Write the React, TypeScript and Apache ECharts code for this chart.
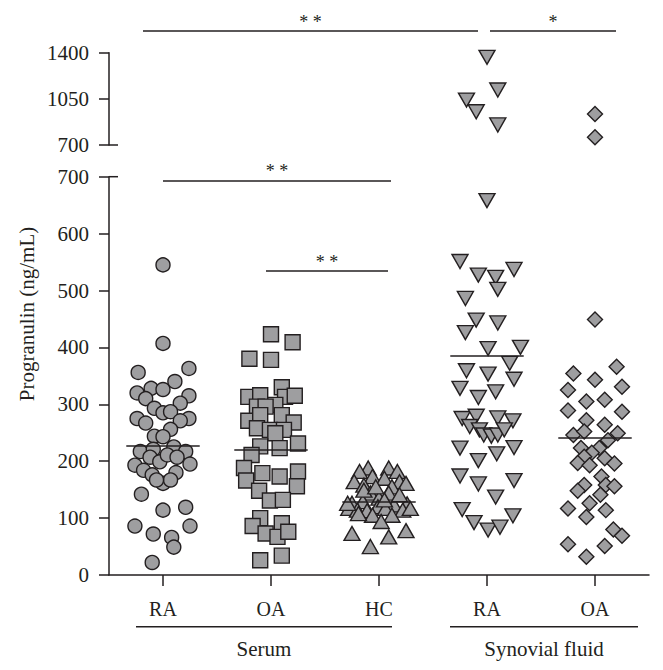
import React, { useEffect, useRef } from "react";
import * as echarts from "echarts";

// ---------- data ----------
const categories = ["RA", "OA", "HC", "RA", "OA"];
const groupLabels = ["Serum", "Synovial fluid"];
const yTitle = "Progranulin (ng/mL)";
const lowerTicks = { min: 0, max: 700, interval: 100 };
const upperTicks = { min: 700, max: 1400, interval: 350 };

const raSerumValues = [545, 407, 356, 363, 320, 328, 326, 340, 315, 310, 302, 293, 275, 267, 285, 287, 275, 271, 256, 244, 243, 217, 221, 225, 217, 193, 207, 199, 211, 207, 195, 184, 176, 180, 161, 167, 167, 142, 114, 119, 86, 72, 66, 86, 49, 22];
const raSerumJitter = [0, 0, -0.23, 0.24, -0.24, -0.11, 0, 0.11, 0.24, -0.16, 0.16, -0.08, -0.24, -0.16, 0, 0.07, 0.24, 0.16, 0.07, -0.08, 0, -0.21, -0.09, 0.1, 0.21, -0.26, -0.12, -0.03, 0.04, 0.13, 0.25, -0.18, -0.1, 0.12, 0, 0.07, -0.06, -0.2, 0, 0.21, -0.26, -0.09, 0.08, 0.25, 0.1, -0.1];

const oaSerumValues = [423, 409, 380, 378, 330, 313, 316, 313, 315, 299, 296, 296, 271, 281, 281, 268, 258, 255, 255, 249, 226, 223, 231, 211, 188, 179, 173, 182, 166, 148, 156, 131, 132, 100, 86, 91, 73, 67, 76, 26, 34];
const oaSerumJitter = [0, 0.2, -0.2, 0, 0.1, -0.21, -0.1, 0.13, 0.22, 0.04, -0.13, -0.05, -0.21, -0.1, 0.1, 0.21, -0.13, -0.01, 0.12, 0.04, -0.1, 0.08, 0.25, -0.18, -0.25, -0.08, 0.08, 0.25, -0.23, -0.11, 0.24, -0.01, 0.11, -0.1, -0.17, 0.1, -0.05, 0.06, 0.16, -0.1, 0.1];

const hcValues = [188, 182, 188, 182, 173, 170, 164, 158, 164, 161, 155, 144, 144, 135, 126, 129, 125, 123, 117, 114, 113, 120, 117, 114, 105, 105, 94, 73, 67, 78, 50, 149, 155, 132, 108, 141, 126, 117];
const hcJitter = [-0.1, -0.18, 0.09, 0.17, -0.06, 0.05, -0.23, -0.14, 0.19, 0.25, 0.12, -0.08, 0.09, 0, -0.25, -0.15, 0.26, 0.14, -0.28, -0.2, -0.11, -0.01, 0.06, 0.22, -0.06, 0.12, 0.02, -0.25, 0.09, 0.25, -0.08, -0.14, -0.03, 0.05, -0.19, 0.19, -0.29, 0.29];

const raSfValues = [1365, 1117, 1041, 952, 852, 658, 551, 527, 523, 537, 502, 486, 448, 443, 426, 398, 400, 372, 359, 353, 344, 328, 312, 322, 275, 279, 276, 271, 261, 255, 246, 244, 246, 255, 223, 201, 213, 224, 174, 160, 166, 137, 115, 92, 79, 84, 104];
const raSfJitter = [0, 0.1, -0.19, -0.1, 0.1, 0, -0.25, -0.08, 0.08, 0.25, 0.1, -0.2, -0.1, 0.1, -0.2, 0.01, 0.31, 0.21, -0.19, 0.01, 0.25, -0.25, -0.08, 0.08, -0.23, -0.1, 0.1, 0.24, -0.16, -0.07, -0.03, 0.04, 0.1, 0.16, -0.25, -0.08, 0.09, 0.25, -0.25, -0.08, 0.25, 0.08, -0.23, -0.12, 0.01, 0.12, 0.24];

const oaSfValues = [935, 758, 449, 366, 354, 343, 331, 325, 305, 308, 289, 287, 272, 264, 246, 252, 237, 249, 223, 223, 215, 208, 205, 197, 193, 196, 173, 158, 158, 148, 156, 141, 126, 117, 102, 114, 80, 69, 54, 51, 32];
const oaSfJitter = [0, 0, 0, 0.2, -0.2, 0, 0.25, -0.25, -0.08, 0.09, -0.25, 0.25, -0.08, 0.09, -0.2, -0.1, 0.12, 0.21, -0.13, 0.04, -0.03, -0.1, 0.09, -0.16, -0.05, 0.18, 0.06, 0.1, -0.1, -0.16, 0.18, 0.05, -0.05, -0.25, -0.08, 0.1, 0.17, 0.25, -0.25, 0.09, -0.08];

const groupMeans = [227, 221, 128, 385, 241];

// ---------- styles ----------
const INK = "#231f20";
const FILL = "#9e9ea0";
const FONT = '"Liberation Serif", "Times New Roman", serif';

const groups = [
  { values: raSerumValues, jitter: raSerumJitter, symbol: "circle", size: 14, rotate: 0 },
  { values: oaSerumValues, jitter: oaSerumJitter, symbol: "rect", size: 15, rotate: 0 },
  { values: hcValues, jitter: hcJitter, symbol: "triangle", size: [16, 14], rotate: 0 },
  { values: raSfValues, jitter: raSfJitter, symbol: "triangle", size: [16, 14], rotate: 180 },
  { values: oaSfValues, jitter: oaSfJitter, symbol: "diamond", size: 15, rotate: 0 },
];

export default function App() {
  const ref = useRef<HTMLDivElement>(null);

  useEffect(() => {
    if (!ref.current) return;
    const chart = echarts.init(ref.current, null, { renderer: "svg" });

    const series: any[] = [];
    groups.forEach((g, i) => {
      const pts = g.values.map((v, k) => [i + g.jitter[k], v]);
      const common = {
        type: "scatter",
        symbol: g.symbol,
        symbolSize: g.size,
        symbolRotate: g.rotate,
        itemStyle: { color: FILL, borderColor: INK, borderWidth: 1.4, opacity: 1 },
        silent: true,
      };
      series.push({
        ...common,
        xAxisIndex: 1,
        yAxisIndex: 0,
        data: pts.filter((p) => p[1] <= 700),
        markLine: {
          silent: true,
          symbol: "none",
          label: { show: false },
          lineStyle: { color: INK, width: 1.5, type: "solid" },
          data: [[{ coord: [i - 0.34, groupMeans[i]] }, { coord: [i + 0.34, groupMeans[i]] }]],
        },
      });
      series.push({
        ...common,
        xAxisIndex: 2,
        yAxisIndex: 1,
        data: pts.filter((p) => p[1] > 700),
      });
    });

    const axisLine = { show: true, onZero: false, lineStyle: { color: INK, width: 1.5 } };
    const axisLabel = { color: INK, fontSize: 21, fontFamily: FONT, formatter: (v: number) => String(v) };

    chart.setOption({
      animation: false,
      grid: [
        { left: 109, top: 176.7, width: 540, height: 398.3, outerBoundsMode: "none" },
        { left: 109, top: 52.7, width: 540, height: 92.3, outerBoundsMode: "none" },
      ],
      xAxis: [
        {
          type: "category",
          gridIndex: 0,
          data: categories,
          boundaryGap: true,
          axisLine,
          axisTick: { show: true, alignWithLabel: true, length: 11, lineStyle: { color: INK, width: 1.5 } },
          axisLabel: { color: INK, fontSize: 20, fontFamily: FONT, margin: 24 },
          splitLine: { show: false },
        },
        { type: "value", gridIndex: 0, min: -0.5, max: 4.5, show: false, splitLine: { show: false } },
        { type: "value", gridIndex: 1, min: -0.5, max: 4.5, show: false, splitLine: { show: false } },
      ],
      yAxis: [
        {
          type: "value",
          gridIndex: 0,
          min: lowerTicks.min,
          max: lowerTicks.max,
          interval: lowerTicks.interval,
          axisLine,
          axisTick: { show: true, length: 10, lineStyle: { color: INK, width: 1.5 } },
          axisLabel: { ...axisLabel, margin: 20 },
          splitLine: { show: false },
        },
        {
          type: "value",
          gridIndex: 1,
          min: upperTicks.min,
          max: upperTicks.max,
          interval: upperTicks.interval,
          axisLine,
          axisTick: { show: true, length: 10, lineStyle: { color: INK, width: 1.5 } },
          axisLabel: { ...axisLabel, margin: 20 },
          splitLine: { show: false },
        },
      ],
      series,
    });

    const cx = (i: number) => chart.convertToPixel({ xAxisIndex: 1 } as any, i) as number;
    const yl = (v: number) => chart.convertToPixel({ yAxisIndex: 0 } as any, v) as number;
    const yu = (v: number) => chart.convertToPixel({ yAxisIndex: 1 } as any, v) as number;
    const axisX = 109;

    const line = (x1: number, y1: number, x2: number, y2: number) => ({
      type: "line",
      silent: true,
      shape: { x1, y1, x2, y2 },
      style: { stroke: INK, lineWidth: 1.5 },
    });
    const text = (t: string, x: number, y: number, size: number, rot = 0) => ({
      type: "text",
      silent: true,
      x,
      y,
      rotation: rot,
      style: { text: t, fill: INK, fontSize: size, fontFamily: FONT, align: "center", verticalAlign: "middle" },
    });

    const graphic: any[] = [
      // axis break caps
      line(axisX, yu(700), axisX + 9, yu(700)),
      line(axisX, yl(700), axisX + 9, yl(700)),
      // significance bars
      line(cx(0) - 20, 31, cx(3) - 9, 31),
      text("* *", (cx(0) - 20 + cx(3) - 9) / 2, 22, 18),
      line(cx(3) + 3, 31, cx(4) + 21, 31),
      text("*", (cx(3) + 3 + cx(4) + 21) / 2, 22, 18),
      line(cx(0), 181, cx(2) + 12, 181),
      text("* *", (cx(0) + cx(2) + 12) / 2, 171, 18),
      line(cx(1) - 5, 271, cx(2) + 9, 271),
      text("* *", (cx(1) - 5 + cx(2) + 9) / 2, 262, 18),
      // group brackets
      line(cx(0) - 27, 626.7, cx(2) + 13, 626.7),
      text(groupLabels[0], (cx(0) - 27 + cx(2) + 13) / 2, 649, 21),
      line(cx(3) - 37, 626.7, cx(4) + 43, 626.7),
      text(groupLabels[1], (cx(3) - 37 + cx(4) + 43) / 2, 649, 21),
      // y title
      text(yTitle, 27, 314, 21, Math.PI / 2),
    ];
    chart.setOption({ graphic });

    return () => chart.dispose();
  }, []);

  return (
    <div
      ref={ref}
      style={{ position: "fixed", left: 0, top: 0, width: 663, height: 670, background: "#fff" }}
    />
  );
}
